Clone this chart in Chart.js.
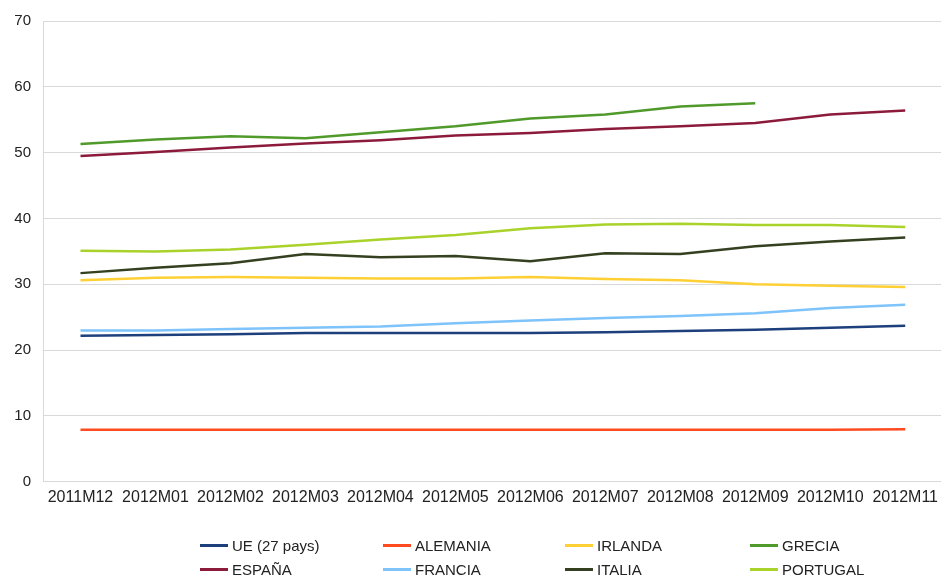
<!DOCTYPE html>
<html>
<head>
<meta charset="utf-8">
<script src="https://cdn.jsdelivr.net/npm/chart.js@4/dist/chart.umd.min.js"></script>
<style>
  html, body { margin: 0; padding: 0; background: #fff; }
  #wrap { position: relative; width: 941px; height: 579px; overflow: hidden; }
  #c { position: absolute; left: 0; top: 0; }
  .lg { position: absolute; display: flex; align-items: center; font-family: "Liberation Sans", Arial, sans-serif; font-size: 15px; color: #222; white-space: nowrap; }
  .lg span.sw { display: inline-block; width: 28px; height: 3px; margin-right: 4px; }
</style>
</head>
<body>
<div id="wrap">
  <canvas id="c" width="944" height="579"></canvas>
  <div id="legend"></div>
</div>
<script>
const categories = ["2011M12","2012M01","2012M02","2012M03","2012M04","2012M05","2012M06","2012M07","2012M08","2012M09","2012M10","2012M11"];
const ue       = [22.2, 22.3, 22.4, 22.6, 22.6, 22.6, 22.6, 22.7, 22.9, 23.1, 23.4, 23.7];
const alemania = [7.9, 7.9, 7.9, 7.9, 7.9, 7.9, 7.9, 7.9, 7.9, 7.9, 7.9, 8.0];
const irlanda  = [30.6, 31.0, 31.1, 31.0, 30.9, 30.9, 31.1, 30.8, 30.6, 30.0, 29.8, 29.6];
const grecia   = [51.3, 52.0, 52.5, 52.2, 53.1, 54.0, 55.2, 55.8, 57.0, 57.5, null, null];
const espana   = [49.5, 50.1, 50.8, 51.4, 51.9, 52.6, 53.0, 53.6, 54.0, 54.5, 55.8, 56.4];
const francia  = [23.0, 23.0, 23.2, 23.4, 23.6, 24.1, 24.5, 24.9, 25.2, 25.6, 26.4, 26.9];
const italia   = [31.7, 32.5, 33.2, 34.6, 34.1, 34.3, 33.5, 34.7, 34.6, 35.8, 36.5, 37.1];
const portugal = [35.1, 35.0, 35.3, 36.0, 36.8, 37.5, 38.5, 39.1, 39.2, 39.0, 39.0, 38.7];
const yTicks = [0, 10, 20, 30, 40, 50, 60, 70];

const seriesNames  = ["UE (27 pays)", "ALEMANIA", "IRLANDA", "GRECIA", "ESPAÑA", "FRANCIA", "ITALIA", "PORTUGAL"];
const seriesData   = [ue, alemania, irlanda, grecia, espana, francia, italia, portugal];
const seriesColors = ["#1d3f7c", "#ff4b1f", "#ffd035", "#4f9a2b", "#8c1a3b", "#7ec3fa", "#34401f", "#a9d22b"];

const datasets = seriesNames.map((n, i) => ({
  label: n,
  data: seriesData[i],
  borderColor: seriesColors[i],
  backgroundColor: seriesColors[i],
  borderWidth: 2.5,
  pointRadius: 0,
  tension: 0,
  fill: false,
  spanGaps: false
}));

new Chart(document.getElementById('c'), {
  type: 'line',
  data: { labels: categories, datasets },
  options: {
    responsive: false,
    animation: false,
    layout: { padding: { top: 11, bottom: 66, left: 0, right: 0 } },
    plugins: { legend: { display: false }, tooltip: { enabled: false } },
    scales: {
      x: {
        offset: true,
        grid: { display: false, drawTicks: false },
        border: { display: true, color: '#d9d9d9', width: 1 },
        ticks: {
          color: '#222', maxRotation: 0, autoSkip: false, padding: 6,
          font: { family: '"Liberation Sans", Arial, sans-serif', size: 16 }
        }
      },
      y: {
        min: 0, max: 70,
        afterBuildTicks: (s) => { s.ticks = yTicks.map(v => ({ value: v })); },
        afterFit: (s) => { s.width = 43; },
        grid: { color: '#d9d9d9', lineWidth: 1, drawTicks: false },
        border: { display: true, color: '#d9d9d9', width: 1 },
        ticks: {
          color: '#222', padding: 12,
          font: { family: '"Liberation Sans", Arial, sans-serif', size: 15 }
        }
      }
    }
  }
});

const legendPos = [[200, 546], [383, 546], [565, 546], [750, 546], [200, 570], [383, 570], [565, 570], [750, 570]];
const lg = document.getElementById('legend');
seriesNames.forEach((n, i) => {
  const d = document.createElement('div');
  d.className = 'lg';
  d.style.left = legendPos[i][0] + 'px';
  d.style.top = (legendPos[i][1] - 9) + 'px';
  d.innerHTML = '<span class="sw" style="background:' + seriesColors[i] + '"></span>' + n;
  lg.appendChild(d);
});
</script>
</body>
</html>
